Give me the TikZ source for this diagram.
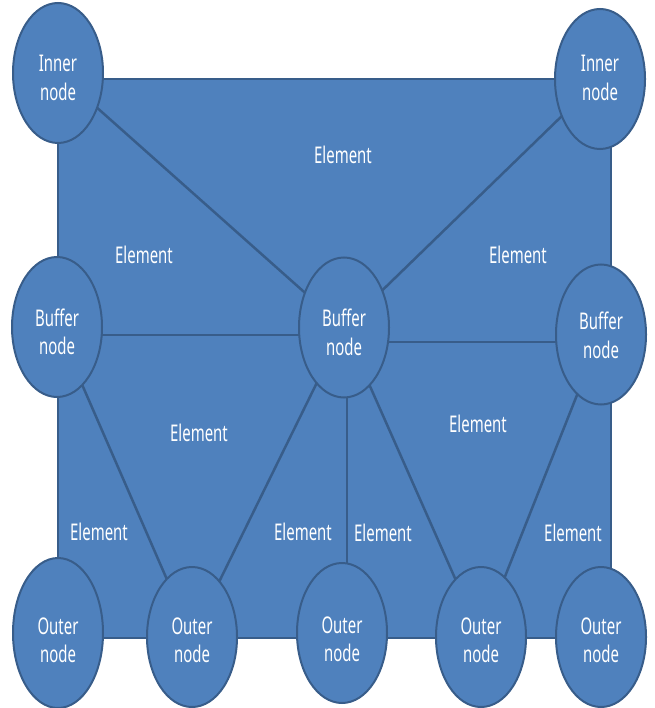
\documentclass[tikz,border=0pt]{standalone}
\usepackage{fontspec}
\setmainfont{Noto Sans}
\usepackage{graphicx}
\usetikzlibrary{shapes.geometric,backgrounds}
\definecolor{fillblue}{HTML}{4F81BD}
\definecolor{edgeblue}{HTML}{385D8A}
\newcommand\sqz[1]{\scalebox{0.65}[1]{\begin{tabular}{@{}c@{}}#1\end{tabular}}}
\begin{document}
\begin{tikzpicture}[x=1pt,y=-1pt,
  ell/.style={ellipse, draw=edgeblue, line width=2pt, fill=fillblue,
    minimum width=90pt, minimum height=140pt, inner sep=0pt},
  txt/.style={text=white, font=\fontsize{23}{28.5}\selectfont, inner sep=0pt},
  conn/.style={draw=edgeblue, line width=2.5pt},
  mesh/.style={draw=edgeblue, line width=2pt, fill=fillblue, inner sep=0pt}
]
\useasboundingbox (0,0) rectangle (654,708);
% nodes
\node[ell, label={[txt,yshift=-7.5pt]center:\sqz{Inner\\node}}] (i1) at (58,73) {};
\node[ell, label={[txt,yshift=-1.5pt]center:\sqz{Inner\\node}}] (i2) at (600,79) {};
\node[ell, label={[txt,yshift=-8pt]center:\sqz{Buffer\\node}}] (b1) at (57,327) {};
\node[ell, label={[txt,yshift=-8pt]center:\sqz{Buffer\\node}}] (b2) at (344,327.5) {};
\node[ell, label={[txt,yshift=-4pt]center:\sqz{Buffer\\node}}] (b3) at (601,334.5) {};
\node[ell, minimum height=150pt, label={[txt,yshift=-10pt]center:\sqz{Outer\\node}}] (o1) at (58,633) {};
\node[ell, label={[txt,yshift=-6pt]center:\sqz{Outer\\node}}] (o2) at (192,637) {};
\node[ell, label={[txt,yshift=-9pt]center:\sqz{Outer\\node}}] (o3) at (342,633) {};
\node[ell, label={[txt,yshift=-6pt]center:\sqz{Outer\\node}}] (o4) at (481,637) {};
\node[ell, label={[txt,yshift=-6pt]center:\sqz{Outer\\node}}] (o5) at (601,637) {};
% element labels
\node[txt] (e1) at (343,158) {\sqz{Element}};
\node[txt] (e2) at (144,258) {\sqz{Element}};
\node[txt] (e3) at (518,258) {\sqz{Element}};
\node[txt] (e4) at (199,436) {\sqz{Element}};
\node[txt] (e5) at (478,427) {\sqz{Element}};
\node[txt] (e6) at (99,535) {\sqz{Element}};
\node[txt] (e7) at (303,535) {\sqz{Element}};
\node[txt] (e8) at (383,536) {\sqz{Element}};
\node[txt] (e9) at (573,536) {\sqz{Element}};
\begin{pgfonlayer}{background}
\node[mesh, minimum width=553pt, minimum height=559pt] (m) at (334.5,358.5) {};
\draw[conn] (i1.center) -- (b2.center);
\draw[conn] (i2.center) -- (b2.center);
\draw[conn] ([yshift=-8pt]b1.center) -- ([yshift=-8pt]b1.center -| b2.center);
\draw[conn] ([yshift=-7.5pt]b3.center) -- ([yshift=-7.5pt]b3.center -| b2.center);
\draw[conn] (b1.center) -- (o2.center);
\draw[conn] (b2.center) -- (o2.center);
\draw[conn] ([xshift=3pt]b2.center) -- ([xshift=3pt]b2.center |- o3.center);
\draw[conn] (b2.center) -- (o4.center);
\draw[conn] (b3.center) -- (o4.center);
\end{pgfonlayer}
\end{tikzpicture}
\end{document}
